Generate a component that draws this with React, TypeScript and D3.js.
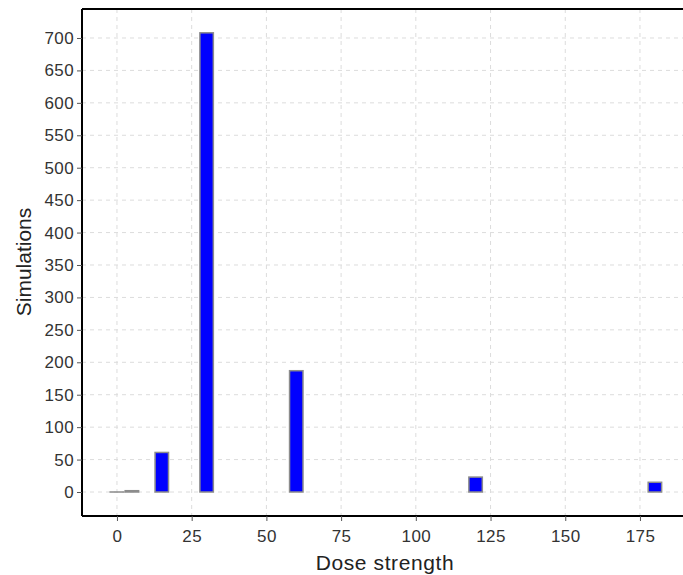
import React, { useEffect, useRef } from 'react';
import * as d3 from 'd3';

// dose levels and how many simulations ended at each
const doses = [0, 5, 15, 30, 60, 120, 180];
const simulations = [0, 2, 61, 708, 187, 23, 15];
const xTicks = [0, 25, 50, 75, 100, 125, 150, 175];
const yTicks = [0, 50, 100, 150, 200, 250, 300, 350, 400, 450, 500, 550, 600, 650, 700];

const font = 'Liberation Sans, Arial, sans-serif';

const App = () => {
  const svgRef = useRef<SVGSVGElement>(null);

  useEffect(() => {
    const width = 683;
    const height = 575;
    const margin = { top: 9, right: 0, bottom: 59, left: 82 };

    d3.select(svgRef.current).selectAll('*').remove();
    const svg = d3.select(svgRef.current).attr('width', width).attr('height', height);

    const x = d3.scaleLinear().domain([-11.7, 189.4]).range([margin.left, width - margin.right]);
    const y = d3.scaleLinear().domain([-37, 744.7]).range([height - margin.bottom, margin.top]);

    // dashed grid
    svg.append('g')
      .selectAll('line')
      .data(xTicks)
      .enter().append('line')
      .attr('x1', d => x(d)).attr('x2', d => x(d))
      .attr('y1', margin.top).attr('y2', height - margin.bottom)
      .attr('stroke', '#dcdcdc').attr('stroke-dasharray', '4,4');
    svg.append('g')
      .selectAll('line')
      .data(yTicks)
      .enter().append('line')
      .attr('x1', margin.left).attr('x2', width)
      .attr('y1', d => y(d)).attr('y2', d => y(d))
      .attr('stroke', '#dcdcdc').attr('stroke-dasharray', '4,4');

    // bars, ~4.5 dose units wide (zero-count bars still show as a flat outline)
    const half = 2.25;
    svg.selectAll('.bar')
      .data(doses.map((d, i) => ({ dose: d, n: simulations[i] })))
      .enter().append('rect')
      .attr('class', 'bar')
      .attr('x', d => x(d.dose - half))
      .attr('width', x(half) - x(-half))
      .attr('y', d => y(d.n))
      .attr('height', d => Math.max(0.01, y(0) - y(d.n)))
      .attr('fill', '#0000ff')
      .attr('stroke', '#8c8c8c')
      .attr('stroke-width', 1.5);

    // axes
    const xAxis = svg.append('g')
      .attr('transform', `translate(0,${height - margin.bottom})`)
      .call(d3.axisBottom(x).tickValues(xTicks).tickSize(5).tickPadding(9));
    const yAxis = svg.append('g')
      .attr('transform', `translate(${margin.left},0)`)
      .call(d3.axisLeft(y).tickValues(yTicks).tickSize(5).tickPadding(3));

    [xAxis, yAxis].forEach(g => {
      g.select('.domain').attr('stroke', '#000').attr('stroke-width', 2);
      g.selectAll('.tick line').attr('stroke', '#555');
      g.selectAll('.tick text')
        .attr('fill', '#333')
        .style('font-family', font)
        .style('font-size', '17px')
        .style('letter-spacing', '0.4px');
    });
    xAxis.select('.domain').attr('d', `M${margin.left},0H${width}`);
    yAxis.select('.domain').attr('d', `M0,${margin.top}V${height - margin.bottom}`);

    // top border
    svg.append('line')
      .attr('x1', margin.left).attr('x2', width)
      .attr('y1', margin.top).attr('y2', margin.top)
      .attr('stroke', '#000').attr('stroke-width', 2);

    // axis titles
    svg.append('text')
      .attr('x', 385).attr('y', 570)
      .attr('text-anchor', 'middle')
      .style('font-family', font)
      .style('font-size', '21px')
      .style('letter-spacing', '0.6px')
      .attr('fill', '#222')
      .text('Dose strength');
    svg.append('text')
      .attr('transform', 'rotate(-90)')
      .attr('x', -262).attr('y', 31)
      .attr('text-anchor', 'middle')
      .style('font-family', font)
      .style('font-size', '21px')
      .attr('fill', '#222')
      .text('Simulations');
  }, []);

  return <svg ref={svgRef} style={{ position: 'absolute', left: 0, top: 0 }}></svg>;
};

export default App;
